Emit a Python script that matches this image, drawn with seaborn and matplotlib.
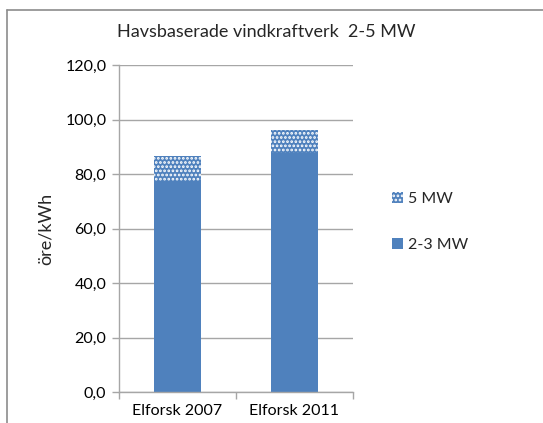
import numpy as np
import pandas as pd
import matplotlib
matplotlib.use('Agg')
import matplotlib.pyplot as plt
import seaborn as sns
from matplotlib.patches import Patch
from matplotlib.lines import Line2D
from matplotlib.ticker import FuncFormatter, FixedLocator

# Data
kategorier = ['Elforsk 2007', 'Elforsk 2011']
mw_2_3 = [77.1, 87.7]
mw_5 = [9.5, 8.4]

titel = 'Havsbaserade vindkraftverk  2-5 MW'
ylabel = 'öre/kWh'

blue = '#4f81bd'

sns.set_theme(style='white')
plt.rcParams['font.family'] = ['Lato', 'DejaVu Sans']
plt.rcParams['hatch.linewidth'] = 1.3

df = pd.DataFrame({'kategori': kategorier,
                   'bas': mw_2_3,
                   'total': np.array(mw_2_3) + np.array(mw_5)})

fig = plt.figure(figsize=(5.43, 4.23), dpi=100)
ax = fig.add_axes([0.219, 0.0733, 0.431, 0.7727])

# gridlines behind bars
ax.set_axisbelow(True)
ax.yaxis.grid(True, color='#a6a6a6', linewidth=1)

# hatched total first, then solid base over it
sns.barplot(data=df, x='kategori', y='total', ax=ax, color=blue,
            saturation=1, width=0.4, edgecolor='white', linewidth=0,
            hatch='....')
sns.barplot(data=df, x='kategori', y='bas', ax=ax, color=blue,
            saturation=1, width=0.4, linewidth=0)

ax.set_ylim(0, 120)
ax.set_xlim(-0.5, 1.5)
ax.set_yticks(np.arange(0, 121, 20))
ax.yaxis.set_major_formatter(FuncFormatter(lambda v, p: f'{v:.1f}'.replace('.', ',')))
ax.tick_params(axis='y', which='major', left=True, length=5, width=1,
               color='#a6a6a6', labelsize=11.5, pad=4, labelcolor='black')
ax.tick_params(axis='x', which='major', bottom=False, labelsize=11.5,
               pad=3, labelcolor='black')
ax.xaxis.set_minor_locator(FixedLocator([-0.5, 0.5, 1.5]))
ax.tick_params(axis='x', which='minor', bottom=True, length=5, width=1,
               color='#a6a6a6')

for side in ['top', 'right']:
    ax.spines[side].set_visible(False)
for side in ['left', 'bottom']:
    ax.spines[side].set_color('#a6a6a6')
    ax.spines[side].set_linewidth(1)

ax.set_xlabel('')
ax.set_ylabel(ylabel, fontsize=13, labelpad=8)

fig.text(0.490, 0.925, titel, ha='center', va='center', fontsize=13)

handles = [Patch(facecolor=blue, edgecolor='white', linewidth=0, hatch='....'),
           Patch(facecolor=blue, linewidth=0)]
fig.legend(handles, ['5 MW', '2-3 MW'], loc='center left',
           bbox_to_anchor=(0.695, 0.475), frameon=False, fontsize=11.5,
           handlelength=0.7, handleheight=0.7, handletextpad=0.3,
           labelspacing=2.0)

# chart border (top and left visible)
fig.add_artist(Line2D([7 / 543, 1], [1 - 10 / 423, 1 - 10 / 423],
                      transform=fig.transFigure, color='#8c8c8c', linewidth=1.2))
fig.add_artist(Line2D([7 / 543, 7 / 543], [0, 1 - 10 / 423],
                      transform=fig.transFigure, color='#8c8c8c', linewidth=1.2))

plt.savefig('out.png', dpi=100)
